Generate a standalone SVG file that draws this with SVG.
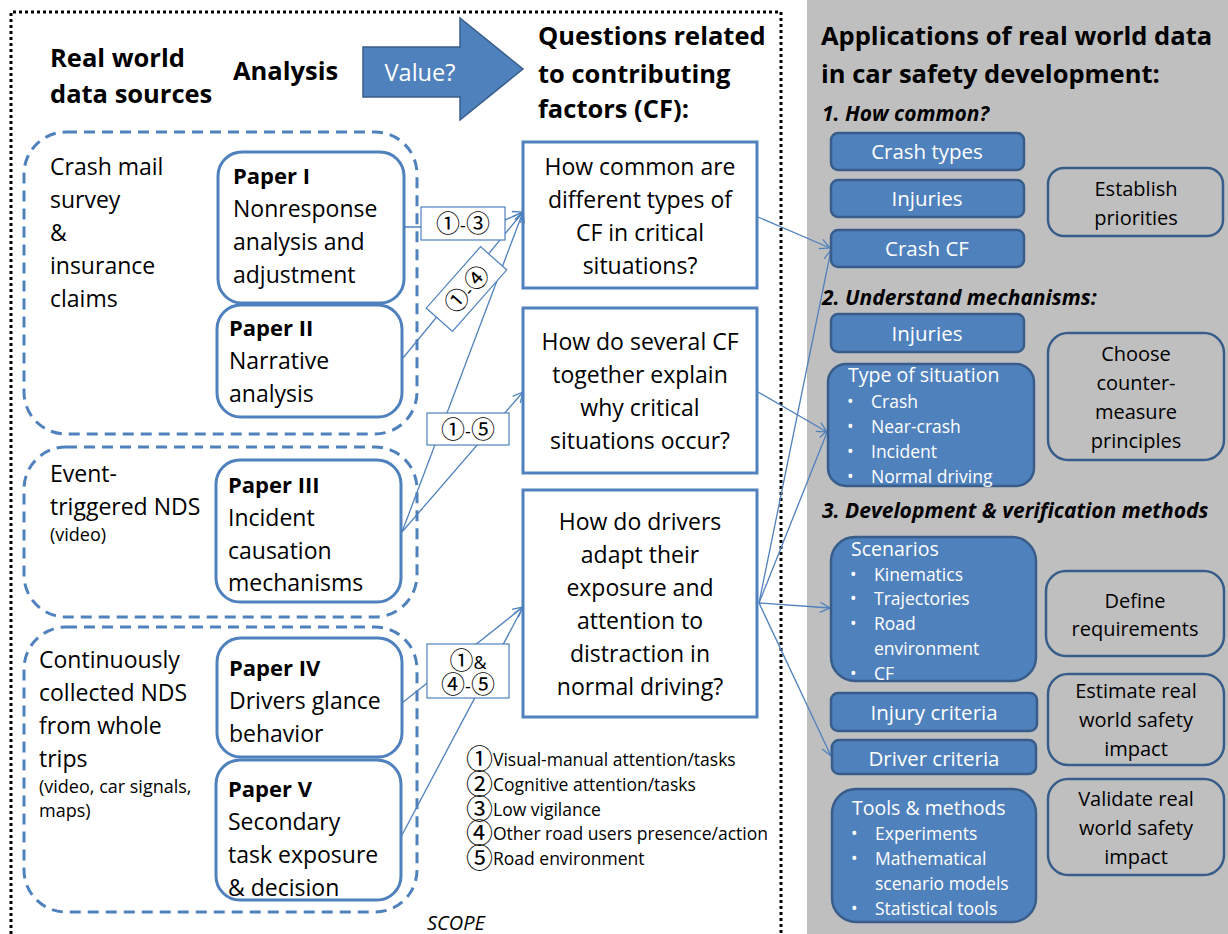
<svg xmlns="http://www.w3.org/2000/svg" width="1228" height="934" viewBox="0 0 1228 934">
<style>
text{font-family:'Open Sans','Noto Sans CJK JP',sans-serif;fill:#000}
.ttl{font-size:25.5px;font-weight:bold}
.b{font-size:23px}
.pb{font-size:22px;font-weight:bold}
.sm{font-size:18px}
.q{font-size:23px;text-anchor:middle}
.h{font-size:21px;font-weight:bold;font-style:italic}
.w{fill:#fff}
.bt{font-size:20.5px;text-anchor:middle}
.bl{font-size:17.5px}
.ot{font-size:20px;text-anchor:middle}
.lg{font-size:17.5px}
.lb{font-size:18px;text-anchor:middle}
.cd{font-family:'Noto Sans CJK JP',sans-serif;font-size:24px}
.cdl{font-family:'Noto Sans CJK JP',sans-serif;font-size:27px}
.grp{fill:none;stroke:#4f81bd;stroke-width:3;stroke-dasharray:11 7}
.paper{fill:#fff;stroke:#4f81bd;stroke-width:3}
.qbox{fill:#fff;stroke:#4f81bd;stroke-width:3}
.fb{fill:#4f81bd;stroke:#385d8a;stroke-width:2.5}
.ob{fill:none;stroke:#385d8a;stroke-width:2.5}
.lbox{fill:#fff;stroke:#4f81bd;stroke-width:1.2}
.c{fill:none;stroke:#4f81bd;stroke-width:1.3}
</style>
<defs>
<marker id="ar" viewBox="0 0 12 12" refX="11" refY="6" markerWidth="12" markerHeight="12" markerUnits="userSpaceOnUse" orient="auto">
<path d="M1,1 L11,6 L1,11" fill="none" stroke="#4f81bd" stroke-width="1.3"/>
</marker>
</defs>
<rect x="0" y="0" width="1228" height="934" fill="#fff"/>
<rect x="807" y="0" width="421" height="934" fill="#bfbfbf"/>
<path d="M11,934 V12 H781 V934" fill="none" stroke="#000" stroke-width="3" stroke-dasharray="3 3"/>

<g id="headers">
<text class="ttl" x="50" y="67">Real world</text>
<text class="ttl" x="50" y="103">data sources</text>
<text class="ttl" x="233" y="80">Analysis</text>
<text class="ttl" x="538" y="45">Questions related</text>
<text class="ttl" x="538" y="83">to contributing</text>
<text class="ttl" x="538" y="118">factors (CF):</text>
<text class="ttl" x="821" y="45">Applications of real world data</text>
<text class="ttl" x="821" y="83">in car safety development:</text>
<text class="h" x="822" y="121">1. How common?</text>
<text class="h" x="822" y="305">2. Understand mechanisms:</text>
<text class="h" x="822" y="518">3. Development &amp; verification methods</text>
<text x="427" y="930" style="font-size:20px;font-style:italic">SCOPE</text>
</g>

<g id="value-arrow">
<polygon points="363,47 460,47 460,18 523,69 460,120 460,97 363,97" fill="#4f81bd" stroke="#385d8a" stroke-width="1.5"/>
<text class="w" x="420" y="81" style="font-size:23.5px;text-anchor:middle">Value?</text>
</g>

<g id="group-crash">
<rect class="grp" x="24" y="132" width="393" height="302" rx="42"/>
<text class="b" x="50" y="175">Crash mail</text>
<text class="b" x="50" y="208">survey</text>
<text class="b" x="50" y="241">&amp;</text>
<text class="b" x="50" y="274">insurance</text>
<text class="b" x="50" y="307">claims</text>
</g>
<g id="group-event">
<rect class="grp" x="24" y="447" width="393" height="170" rx="42"/>
<text class="b" x="50" y="482">Event-</text>
<text class="b" x="50" y="515">triggered NDS</text>
<text class="sm" x="50" y="541">(video)</text>
</g>
<g id="group-cont">
<rect class="grp" x="24" y="627" width="393" height="285" rx="42"/>
<text class="b" x="39" y="668">Continuously</text>
<text class="b" x="39" y="701">collected NDS</text>
<text class="b" x="39" y="734">from whole</text>
<text class="b" x="39" y="767">trips</text>
<text class="sm" x="39" y="793">(video, car signals,</text>
<text class="sm" x="39" y="817">maps)</text>
</g>

<g id="paper1">
<rect class="paper" x="218" y="152" width="186" height="151" rx="24"/>
<text class="pb" x="233" y="184">Paper I</text>
<text class="b" x="233" y="217">Nonresponse</text>
<text class="b" x="233" y="250">analysis and</text>
<text class="b" x="233" y="283">adjustment</text>
</g>
<g id="paper2">
<rect class="paper" x="217" y="305" width="185" height="112" rx="24"/>
<text class="pb" x="229" y="336">Paper II</text>
<text class="b" x="229" y="369">Narrative</text>
<text class="b" x="229" y="402">analysis</text>
</g>
<g id="paper3">
<rect class="paper" x="216" y="460" width="185" height="142" rx="24"/>
<text class="pb" x="228" y="493">Paper III</text>
<text class="b" x="228" y="526">Incident</text>
<text class="b" x="228" y="559">causation</text>
<text class="b" x="228" y="591">mechanisms</text>
</g>
<g id="paper4">
<rect class="paper" x="217" y="638" width="185" height="119" rx="24"/>
<text class="pb" x="229" y="676">Paper IV</text>
<text class="b" x="229" y="709">Drivers glance</text>
<text class="b" x="229" y="742">behavior</text>
</g>
<g id="paper5">
<rect class="paper" x="216" y="760" width="185" height="140" rx="24"/>
<text class="pb" x="228" y="797">Paper V</text>
<text class="b" x="228" y="830">Secondary</text>
<text class="b" x="228" y="863">task exposure</text>
<text class="b" x="228" y="896">&amp; decision</text>
</g>

<g id="q1">
<rect class="qbox" x="523" y="142" width="234" height="146"/>
<text class="q" x="640" y="175">How common are</text>
<text class="q" x="640" y="208">different types of</text>
<text class="q" x="640" y="241">CF in critical</text>
<text class="q" x="640" y="274">situations?</text>
</g>
<g id="q2">
<rect class="qbox" x="523" y="308" width="234" height="165"/>
<text class="q" x="640" y="350">How do several CF</text>
<text class="q" x="640" y="383">together explain</text>
<text class="q" x="640" y="416">why critical</text>
<text class="q" x="640" y="449">situations occur?</text>
</g>
<g id="q3">
<rect class="qbox" x="523" y="490" width="234" height="227"/>
<text class="q" x="640" y="530">How do drivers</text>
<text class="q" x="640" y="563">adapt their</text>
<text class="q" x="640" y="596">exposure and</text>
<text class="q" x="640" y="629">attention to</text>
<text class="q" x="640" y="662">distraction in</text>
<text class="q" x="640" y="695">normal driving?</text>
</g>

<g id="legend">
<text class="lg" x="466" y="766"><tspan class="cdl" dy="3">①</tspan><tspan dy="-3">Visual-manual attention/tasks</tspan></text>
<text class="lg" x="466" y="791"><tspan class="cdl" dy="3">②</tspan><tspan dy="-3">Cognitive attention/tasks</tspan></text>
<text class="lg" x="466" y="816"><tspan class="cdl" dy="3">③</tspan><tspan dy="-3">Low vigilance</tspan></text>
<text class="lg" x="466" y="840"><tspan class="cdl" dy="3">④</tspan><tspan dy="-3">Other road users presence/action</tspan></text>
<text class="lg" x="466" y="865"><tspan class="cdl" dy="3">⑤</tspan><tspan dy="-3">Road environment</tspan></text>
</g>

<g id="connectors">
<path class="c" d="M404,227 L421,227 L505,220 L523,212" marker-end="url(#ar)"/>
<path class="c" d="M403,358 L523,212" marker-end="url(#ar)"/>
<path class="c" d="M402,532 L523,212" marker-end="url(#ar)"/>
<path class="c" d="M402,532 L523,392" marker-end="url(#ar)"/>
<path class="c" d="M402,703 L523,607" marker-end="url(#ar)"/>
<path class="c" d="M402,835 L523,607" marker-end="url(#ar)"/>
<path class="c" d="M758,217 L830,248" marker-end="url(#ar)"/>
<path class="c" d="M758,392 L827,432" marker-end="url(#ar)"/>
<path class="c" d="M759,603 L831,250" marker-end="url(#ar)"/>
<path class="c" d="M759,603 L828,430" marker-end="url(#ar)"/>
<path class="c" d="M759,603 L830,608" marker-end="url(#ar)"/>
<path class="c" d="M759,603 L831,756" marker-end="url(#ar)"/>
</g>

<g id="label-13">
<rect class="lbox" x="421" y="207" width="84" height="33"/>
<text class="lb" x="463" y="232"><tspan class="cd">①</tspan>-<tspan class="cd">③</tspan></text>
</g>
<g id="label-14" transform="translate(466.5,289) rotate(-48.5)">
<rect class="lbox" x="-41" y="-17.5" width="82" height="35"/>
<text class="lb" x="0" y="9"><tspan class="cd">①</tspan>-<tspan class="cd">④</tspan></text>
</g>
<g id="label-15">
<rect class="lbox" x="427" y="413" width="82" height="32"/>
<text class="lb" x="468" y="438"><tspan class="cd">①</tspan>-<tspan class="cd">⑤</tspan></text>
</g>
<g id="label-145">
<rect class="lbox" x="427" y="644" width="82" height="54"/>
<text class="lb" x="468" y="669"><tspan class="cd">①</tspan>&amp;</text>
<text class="lb" x="468" y="693"><tspan class="cd">④</tspan>-<tspan class="cd">⑤</tspan></text>
</g>

<g id="crash-types"><rect class="fb" x="831" y="133" width="193" height="37" rx="7"/><text class="bt w" x="927" y="159">Crash types</text></g>
<g id="injuries1"><rect class="fb" x="831" y="180" width="193" height="37" rx="7"/><text class="bt w" x="927" y="206">Injuries</text></g>
<g id="crash-cf"><rect class="fb" x="831" y="230" width="193" height="37" rx="7"/><text class="bt w" x="927" y="256">Crash CF</text></g>
<g id="establish"><rect class="ob" x="1048" y="168" width="175" height="68" rx="16"/><text class="ot" x="1136" y="196">Establish</text><text class="ot" x="1136" y="225">priorities</text></g>

<g id="injuries2"><rect class="fb" x="831" y="314" width="193" height="38" rx="7"/><text class="bt w" x="927" y="341">Injuries</text></g>
<g id="type-situation"><rect class="fb" x="828" y="364" width="206" height="122" rx="18"/>
<text class="w" x="848" y="382" style="font-size:19.5px">Type of situation</text>
<text class="bl w" x="847" y="408">•</text><text class="bl w" x="871" y="408">Crash</text>
<text class="bl w" x="847" y="433">•</text><text class="bl w" x="871" y="433">Near-crash</text>
<text class="bl w" x="847" y="458">•</text><text class="bl w" x="871" y="458">Incident</text>
<text class="bl w" x="847" y="483">•</text><text class="bl w" x="871" y="483">Normal driving</text>
</g>
<g id="choose"><rect class="ob" x="1048" y="333" width="176" height="127" rx="20"/>
<text class="ot" x="1136" y="361">Choose</text><text class="ot" x="1136" y="390">counter-</text><text class="ot" x="1136" y="419">measure</text><text class="ot" x="1136" y="448">principles</text></g>

<g id="scenarios"><rect class="fb" x="831" y="537" width="205" height="144" rx="24"/>
<text class="w" x="851" y="556" style="font-size:19.5px">Scenarios</text>
<text class="bl w" x="850" y="581">•</text><text class="bl w" x="874" y="581">Kinematics</text>
<text class="bl w" x="850" y="605">•</text><text class="bl w" x="874" y="605">Trajectories</text>
<text class="bl w" x="850" y="630">•</text><text class="bl w" x="874" y="630">Road</text>
<text class="bl w" x="874" y="655">environment</text>
<text class="bl w" x="850" y="680">•</text><text class="bl w" x="874" y="680">CF</text>
</g>
<g id="injury-criteria"><rect class="fb" x="831" y="693" width="206" height="38" rx="7"/><text class="bt w" x="934" y="720">Injury criteria</text></g>
<g id="driver-criteria"><rect class="fb" x="832" y="740" width="204" height="34" rx="7"/><text class="bt w" x="934" y="766">Driver criteria</text></g>
<g id="tools"><rect class="fb" x="832" y="789" width="204" height="133" rx="24"/>
<text class="w" x="852" y="815" style="font-size:19.5px">Tools &amp; methods</text>
<text class="bl w" x="851" y="840">•</text><text class="bl w" x="875" y="840">Experiments</text>
<text class="bl w" x="851" y="865">•</text><text class="bl w" x="875" y="865">Mathematical</text>
<text class="bl w" x="875" y="890">scenario models</text>
<text class="bl w" x="851" y="915">•</text><text class="bl w" x="875" y="915">Statistical tools</text>
</g>
<g id="define"><rect class="ob" x="1046" y="571" width="178" height="85" rx="20"/><text class="ot" x="1135" y="608">Define</text><text class="ot" x="1135" y="636">requirements</text></g>
<g id="estimate"><rect class="ob" x="1048" y="674" width="176" height="91" rx="20"/><text class="ot" x="1136" y="698">Estimate real</text><text class="ot" x="1136" y="727">world safety</text><text class="ot" x="1136" y="756">impact</text></g>
<g id="validate"><rect class="ob" x="1048" y="779" width="176" height="96" rx="20"/><text class="ot" x="1136" y="806">Validate real</text><text class="ot" x="1136" y="835">world safety</text><text class="ot" x="1136" y="864">impact</text></g>
</svg>
